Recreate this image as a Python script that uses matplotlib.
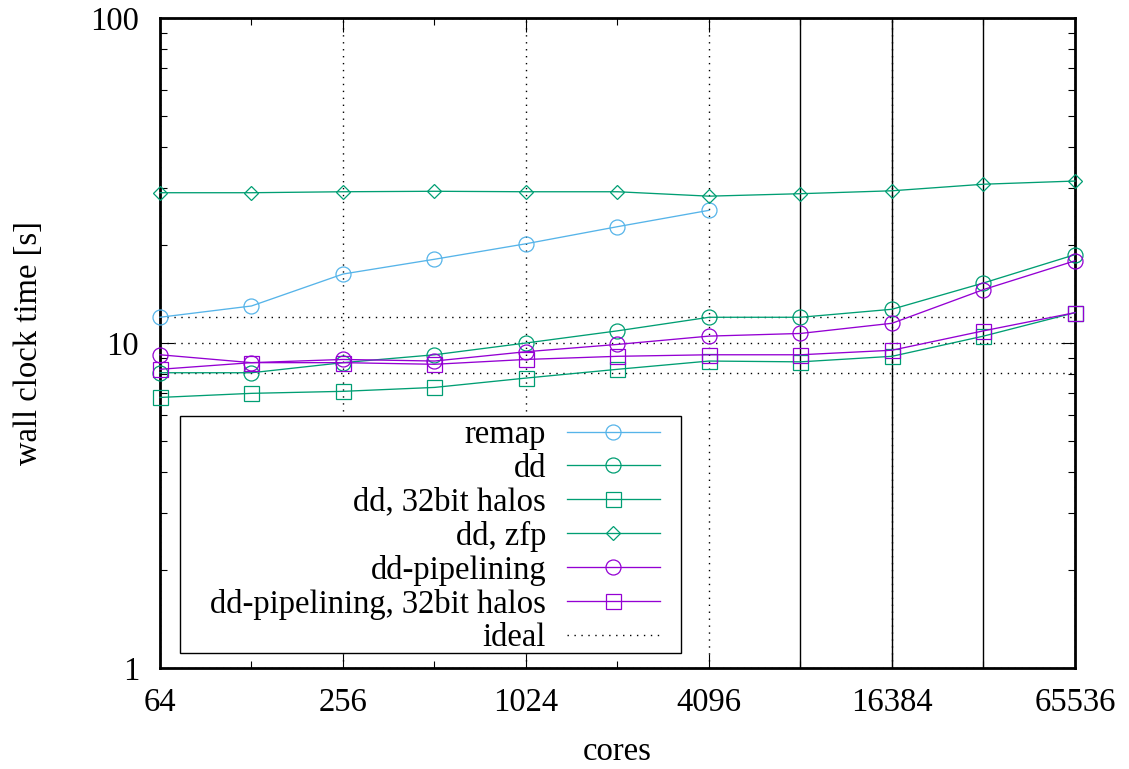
import matplotlib
matplotlib.use("Agg")
import matplotlib.pyplot as plt
from matplotlib.patches import Rectangle
from matplotlib.ticker import FixedLocator, FixedFormatter, NullFormatter

plt.rcParams['font.family'] = ['Liberation Serif', 'DejaVu Serif']
plt.rcParams['font.size'] = 23.5

# weak scaling runs, wall clock time [s] per core count
cores = [64, 128, 256, 512, 1024, 2048, 4096, 8192, 16384, 32768, 65536]
remap = [12.0, 13.0, 16.3, 18.1, 20.2, 22.8, 25.6]
dd = [8.1, 8.1, 8.7, 9.2, 10.0, 10.9, 12.0, 12.0, 12.7, 15.3, 18.7]
dd_32bit = [6.8, 7.0, 7.1, 7.3, 7.8, 8.3, 8.8, 8.75, 9.1, 10.5, 12.4]
dd_zfp = [29.0, 29.0, 29.2, 29.3, 29.2, 29.2, 28.3, 28.8, 29.4, 30.8, 31.5]
pipe = [9.2, 8.7, 8.9, 8.8, 9.4, 9.9, 10.5, 10.7, 11.5, 14.6, 17.9]
pipe_32bit = [8.3, 8.7, 8.7, 8.6, 8.9, 9.1, 9.2, 9.2, 9.5, 10.9, 12.4]

x_major = [64, 256, 1024, 4096, 16384, 65536]
x_minor = [128, 512, 2048, 8192, 32768]
node_lines = [8192, 16384, 32768]

violet = "#9400d3"
green = "#009e73"
blue = "#56b4e9"

fig = plt.figure(figsize=(11.29, 7.69), dpi=100)
ax = fig.add_axes([160/1129, 1 - 668/769, 915/1129, 650/769])
ax.set_xscale("log", base=2)
ax.set_yscale("log")
ax.set_xlim(64, 65536)
ax.set_ylim(1, 100)

common = dict(lw=0.95, mew=0.9, fillstyle="none", clip_on=False, zorder=3)
ax.plot(cores[:len(remap)], remap, color=blue, marker="o", ms=10.8, label="remap", **common)
ax.plot(cores, dd, color=green, marker="o", ms=10.8, label="dd", **common)
ax.plot(cores, dd_32bit, color=green, marker="s", ms=10.8, label="dd, 32bit halos", **common)
ax.plot(cores, dd_zfp, color=green, marker="D", ms=7.6, label="dd, zfp", **common)
ax.plot(cores, pipe, color=violet, marker="o", ms=10.8, label="dd-pipelining", **common)
ax.plot(cores, pipe_32bit, color=violet, marker="s", ms=10.8,
        label="dd-pipelining, 32bit halos", **common)

# ideal = flat at the first value
dots = (0, (1, 4))
ax.axhline(remap[0], color="black", lw=1.0, ls=dots, zorder=2, label="ideal")
ax.axhline(dd[0], color="black", lw=1.0, ls=dots, zorder=2)

for c in node_lines:
    ax.axvline(c, color="black", lw=1.0, zorder=2)

ax.xaxis.set_major_locator(FixedLocator(x_major))
ax.xaxis.set_major_formatter(FixedFormatter([str(v) for v in x_major]))
ax.xaxis.set_minor_locator(FixedLocator(x_minor))
ax.xaxis.set_minor_formatter(NullFormatter())
ax.yaxis.set_major_locator(FixedLocator([1, 10, 100]))
ax.yaxis.set_major_formatter(FixedFormatter(["1", "10", "100"]))
ax.yaxis.set_minor_locator(FixedLocator([m * d for d in (1, 10) for m in range(2, 10)]))
ax.yaxis.set_minor_formatter(NullFormatter())

ax.tick_params(which="both", direction="in", top=True, right=True, width=0.8)
ax.tick_params(which="major", length=10)
ax.tick_params(which="minor", length=5)
ax.tick_params(axis="x", which="major", pad=14)
ax.tick_params(axis="y", which="major", pad=15)

ax.grid(which="major", color="black", lw=1.0, ls=dots)
ax.set_axisbelow(True)
for s in ax.spines.values():
    s.set_linewidth(2)

ax.set_xlabel("cores", labelpad=13)
ax.set_ylabel("wall clock time [s]", labelpad=33)

box = Rectangle((0.0219, 0.0231), 0.5475, 0.3646, transform=ax.transAxes,
                facecolor="white", edgecolor="black", lw=1.0, zorder=4)
ax.add_patch(box)
leg = ax.legend(loc="upper right", bbox_to_anchor=(0.5464, 0.382), frameon=False,
                markerfirst=False, borderpad=0, borderaxespad=0, handlelength=2.85,
                handletextpad=0.64, labelspacing=0.095)
leg.set_zorder(5)

fig.savefig("out.png", dpi=100)
